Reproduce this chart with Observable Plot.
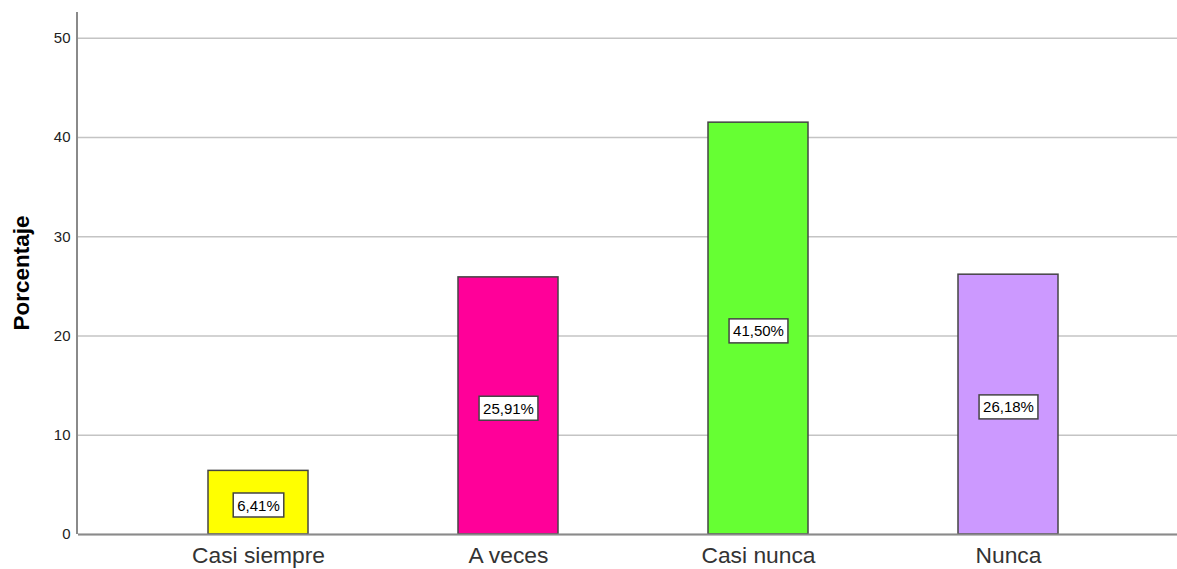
<!DOCTYPE html>
<html>
<head>
<meta charset="utf-8">
<script src="https://cdn.jsdelivr.net/npm/d3@7"></script>
<script src="https://cdn.jsdelivr.net/npm/@observablehq/plot@0.6"></script>
<style>
  html, body { margin: 0; padding: 0; background: #fff; }
  #chart svg { display: block; }
</style>
</head>
<body>
<div id="chart"></div>
<script>
const categories = ["Casi siempre", "A veces", "Casi nunca", "Nunca"];
const values = [6.41, 25.91, 41.50, 26.18];
const labels = ["6,41%", "25,91%", "41,50%", "26,18%"];
const colors = ["#FFFF00", "#FF0099", "#66FF33", "#CC99FF"];
const yTicks = [0, 10, 20, 30, 40, 50];

const data = categories.map((c, i) => ({cat: c, value: values[i], label: labels[i], color: colors[i]}));

const plot = Plot.plot({
  width: 1177,
  height: 569,
  marginLeft: 78,
  marginRight: 0,
  marginTop: 12,
  marginBottom: 35,
  style: {fontFamily: "Liberation Sans, Arial, sans-serif", background: "#fff"},
  x: {domain: categories, paddingInner: 0.6, paddingOuter: 0.498, align: 0.522, label: null},
  y: {domain: [0, 52.6], label: null},
  marks: [
    Plot.gridY(yTicks, {stroke: "#c4c4c4", strokeOpacity: 1, strokeWidth: 1.5}),
    Plot.barY(data, {x: "cat", y: "value", fill: "color", stroke: "#444", strokeWidth: 1.5}),
    Plot.axisY(yTicks, {tickSize: 0, tickPadding: 8, fontSize: 15, fill: "#222", label: null}),
    Plot.axisX({tickSize: 0, tickPadding: 12, fontSize: 22.8, fill: "#333", label: null}),
    Plot.ruleY([0], {stroke: "#8a8a8a", strokeWidth: 2}),
    Plot.text(data, {x: "cat", y: d => d.value / 2, dy: 3, text: "label", fontSize: 15, fill: "#000", className: "vlabel"})
  ]
});
document.getElementById("chart").appendChild(plot);

const svg = d3.select(plot);
// vertical axis line along the left edge
svg.append("line")
  .attr("x1", 77).attr("x2", 77).attr("y1", 12).attr("y2", 534)
  .attr("stroke", "#8a8a8a").attr("stroke-width", 2);

// white boxes behind value labels
plot.querySelectorAll(".vlabel text").forEach(t => {
  const b = t.getBBox();
  const r = document.createElementNS("http://www.w3.org/2000/svg", "rect");
  r.setAttribute("x", b.x - 4);
  r.setAttribute("y", b.y - 3.5);
  r.setAttribute("width", b.width + 8);
  r.setAttribute("height", b.height + 7);
  r.setAttribute("fill", "#fff");
  r.setAttribute("stroke", "#444");
  r.setAttribute("stroke-width", 1.5);
  const tr = t.getAttribute("transform");
  if (tr) r.setAttribute("transform", tr);
  t.parentNode.insertBefore(r, t);
});

// y axis title
svg.append("text")
  .attr("transform", "translate(29,273) rotate(-90)")
  .attr("text-anchor", "middle")
  .attr("font-family", "Liberation Sans, Arial, sans-serif")
  .attr("font-weight", "bold")
  .attr("font-size", 22.5)
  .attr("fill", "#000")
  .text("Porcentaje");
</script>
</body>
</html>
